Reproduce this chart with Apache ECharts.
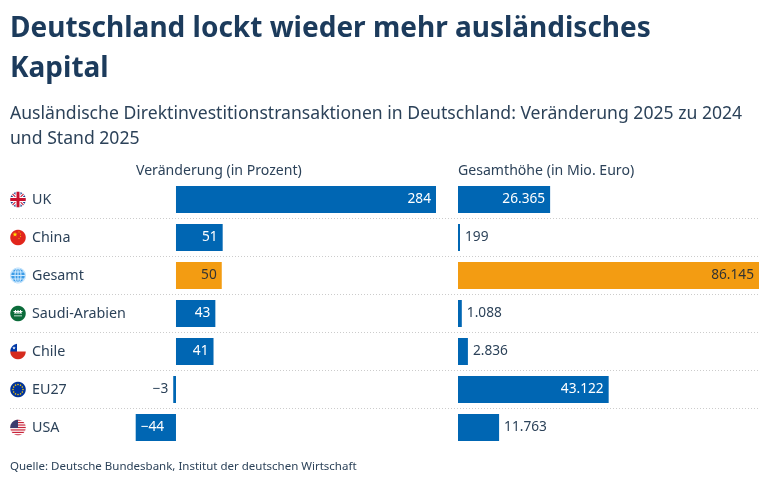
<!DOCTYPE html>
<html>
<head>
<meta charset="utf-8">
<script src="https://cdn.jsdelivr.net/npm/echarts@6/dist/echarts.min.js"></script>
<style>
  html, body { margin: 0; padding: 0; background: #fff; }
  #chart { width: 770px; height: 488px; }
</style>
</head>
<body>
<div id="chart"></div>
<script>
const countries = ['UK', 'China', 'Gesamt', 'Saudi-Arabien', 'Chile', 'EU27', 'USA'];
const changePct = [284, 51, 50, 43, 41, -3, -44];
const totalMio = [26365, 199, 86145, 1088, 2836, 43122, 11763];

const BLUE = '#0066b3';
const ORANGE = '#f39c12';
const TEXT = '#2c4259';
const FONT = '"Noto Sans", "Open Sans", sans-serif';

// little round flags, drawn on canvas
function star(ctx, cx, cy, r, color) {
  ctx.beginPath();
  for (let i = 0; i < 10; i++) {
    const a = -Math.PI / 2 + i * Math.PI / 5;
    const rr = i % 2 ? r * 0.42 : r;
    ctx.lineTo(cx + rr * Math.cos(a), cy + rr * Math.sin(a));
  }
  ctx.closePath();
  ctx.fillStyle = color;
  ctx.fill();
}

function makeFlag(draw) {
  const c = document.createElement('canvas');
  c.width = c.height = 32;
  const ctx = c.getContext('2d');
  ctx.save();
  ctx.beginPath();
  ctx.arc(16, 16, 15.5, 0, Math.PI * 2);
  ctx.clip();
  draw(ctx);
  ctx.restore();
  return c;
}

const flags = [
  makeFlag(ctx => { // UK
    ctx.fillStyle = '#1f3f8f'; ctx.fillRect(0, 0, 32, 32);
    ctx.strokeStyle = '#fff'; ctx.lineWidth = 6;
    ctx.beginPath(); ctx.moveTo(0, 0); ctx.lineTo(32, 32); ctx.moveTo(32, 0); ctx.lineTo(0, 32); ctx.stroke();
    ctx.strokeStyle = '#c8102e'; ctx.lineWidth = 2;
    ctx.beginPath(); ctx.moveTo(0, 0); ctx.lineTo(32, 32); ctx.moveTo(32, 0); ctx.lineTo(0, 32); ctx.stroke();
    ctx.fillStyle = '#fff'; ctx.fillRect(11, 0, 10, 32); ctx.fillRect(0, 11, 32, 10);
    ctx.fillStyle = '#c8102e'; ctx.fillRect(13, 0, 6, 32); ctx.fillRect(0, 13, 32, 6);
  }),
  makeFlag(ctx => { // China
    ctx.fillStyle = '#e1261c'; ctx.fillRect(0, 0, 32, 32);
    star(ctx, 10, 10, 5, '#ffde00');
    star(ctx, 18, 5, 1.6, '#ffde00');
    star(ctx, 21, 9, 1.6, '#ffde00');
    star(ctx, 21, 14, 1.6, '#ffde00');
    star(ctx, 18, 18, 1.6, '#ffde00');
  }),
  makeFlag(ctx => { // globe
    ctx.fillStyle = '#3d9ce6'; ctx.fillRect(0, 0, 32, 32);
    ctx.strokeStyle = '#cfeaff'; ctx.lineWidth = 2;
    ctx.beginPath(); ctx.ellipse(16, 16, 6, 15, 0, 0, Math.PI * 2); ctx.stroke();
    ctx.beginPath(); ctx.moveTo(16, 0); ctx.lineTo(16, 32); ctx.stroke();
    ctx.beginPath(); ctx.moveTo(0, 16); ctx.lineTo(32, 16);
    ctx.moveTo(2, 9); ctx.lineTo(30, 9); ctx.moveTo(2, 23); ctx.lineTo(30, 23); ctx.stroke();
    ctx.beginPath(); ctx.arc(16, 16, 14.5, 0, Math.PI * 2); ctx.stroke();
  }),
  makeFlag(ctx => { // Saudi Arabia
    ctx.fillStyle = '#0b6b3a'; ctx.fillRect(0, 0, 32, 32);
    ctx.fillStyle = '#fff';
    ctx.fillRect(7, 11, 18, 2); ctx.fillRect(8, 14, 16, 2);
    ctx.fillRect(10, 9, 2, 6); ctx.fillRect(15, 9, 2, 6); ctx.fillRect(20, 9, 2, 6);
    ctx.fillRect(8, 20, 16, 1.5);
  }),
  makeFlag(ctx => { // Chile
    ctx.fillStyle = '#fff'; ctx.fillRect(0, 0, 32, 16);
    ctx.fillStyle = '#d52b1e'; ctx.fillRect(0, 16, 32, 16);
    ctx.fillStyle = '#0039a6'; ctx.fillRect(0, 0, 14, 16);
    star(ctx, 8, 9, 3.5, '#fff');
  }),
  makeFlag(ctx => { // EU
    ctx.fillStyle = '#003399'; ctx.fillRect(0, 0, 32, 32);
    ctx.fillStyle = '#ffcc00';
    for (let i = 0; i < 12; i++) {
      const a = i * Math.PI / 6;
      ctx.beginPath(); ctx.arc(16 + 10 * Math.cos(a), 16 + 10 * Math.sin(a), 1.5, 0, Math.PI * 2); ctx.fill();
    }
  }),
  makeFlag(ctx => { // USA
    for (let i = 0; i < 13; i++) {
      ctx.fillStyle = i % 2 ? '#fff' : '#c8243a';
      ctx.fillRect(0, i * 32 / 13, 32, 32 / 13 + 0.5);
    }
    ctx.fillStyle = '#3c3b6e'; ctx.fillRect(0, 0, 16, 17);
  })
];

const rich = { n: { fontSize: 14.3, fontFamily: FONT, color: TEXT, padding: [0, 0, 0, 6] } };
flags.forEach((f, i) => {
  rich['f' + i] = { width: 16, height: 16, backgroundColor: { image: f } };
});

const fmtDe = v => String(Math.abs(v)).replace(/\B(?=(\d{3})+(?!\d))/g, '.');
const fmtSigned = v => (v < 0 ? '\u2212' : '') + fmtDe(v);

const valueLabel = (inside, neg, dark) => ({
  show: true,
  position: inside ? (neg ? 'insideLeft' : 'insideRight') : (neg ? 'left' : 'right'),
  distance: 5,
  fontSize: 13.7,
  fontFamily: FONT,
  color: inside ? (dark ? '#333333' : '#ffffff') : TEXT,
  formatter: p => fmtSigned(p.value)
});

const leftData = changePct.map((v, i) => ({
  value: v,
  itemStyle: { color: countries[i] === 'Gesamt' ? ORANGE : BLUE },
  label: valueLabel(Math.abs(v) >= 10, v < 0, countries[i] === 'Gesamt')
}));
const rightData = totalMio.map((v, i) => ({
  value: v,
  itemStyle: { color: countries[i] === 'Gesamt' ? ORANGE : BLUE },
  label: valueLabel(v >= 20000, false, countries[i] === 'Gesamt')
}));

const ROW_TOP = 180.5, ROW_H = 38;

const chart = echarts.init(document.getElementById('chart'), null, { renderer: 'canvas' });
chart.setOption({
  animation: false,
  backgroundColor: '#fff',
  title: [
    {
      text: 'Deutschland lockt wieder mehr ausländisches\nKapital',
      left: 10, top: 9, padding: 0,
      textStyle: { fontFamily: FONT, fontWeight: 'bold', fontSize: 28, lineHeight: 40, color: '#1c3b5c' }
    },
    {
      text: 'Ausländische Direktinvestitionstransaktionen in Deutschland: Veränderung 2025 zu 2024\nund Stand 2025',
      left: 10, top: 101, padding: 0,
      textStyle: { fontFamily: FONT, fontWeight: 'normal', fontSize: 17.6, lineHeight: 25, color: TEXT }
    },
    {
      text: 'Veränderung (in Prozent)',
      left: 136, top: 162, padding: 0,
      textStyle: { fontFamily: FONT, fontWeight: 'normal', fontSize: 14.1, lineHeight: 18, color: TEXT }
    },
    {
      text: 'Gesamthöhe (in Mio. Euro)',
      left: 458, top: 162, padding: 0,
      textStyle: { fontFamily: FONT, fontWeight: 'normal', fontSize: 14.1, lineHeight: 18, color: TEXT }
    },
    {
      text: 'Quelle: Deutsche Bundesbank, Institut der deutschen Wirtschaft',
      left: 10, top: 459, padding: 0,
      textStyle: { fontFamily: FONT, fontWeight: 'normal', fontSize: 11.5, lineHeight: 16, color: TEXT }
    }
  ],
  grid: [
    { left: 135.7, right: 334, top: ROW_TOP, height: ROW_H * 7 },
    { left: 458, right: 11, top: ROW_TOP, height: ROW_H * 7 },
    { left: 10, right: 11, top: ROW_TOP, height: ROW_H * 7 },
    // separators between the rows
    { left: 10, right: 11, top: ROW_TOP + ROW_H, height: ROW_H * 5 }
  ],
  xAxis: [
    { gridIndex: 0, type: 'value', min: 'dataMin', max: 'dataMax', show: false },
    { gridIndex: 1, type: 'value', min: 0, max: 'dataMax', show: false },
    { gridIndex: 2, type: 'value', min: 0, max: 1, show: false },
    { gridIndex: 3, type: 'value', min: 0, max: 1, show: false }
  ],
  yAxis: [
    { gridIndex: 0, type: 'category', data: countries, inverse: true, show: false },
    { gridIndex: 1, type: 'category', data: countries, inverse: true, show: false },
    {
      gridIndex: 2, type: 'category', data: countries, inverse: true,
      axisLine: { show: false }, axisTick: { show: false }, splitLine: { show: false },
      axisLabel: {
        inside: true, margin: 0, align: 'left',
        formatter: (val, idx) => '{f' + idx + '|}{n|' + val + '}',
        rich: rich
      }
    },
    {
      gridIndex: 3, type: 'value', min: 0, max: 5, interval: 1,
      axisLine: { show: false }, axisTick: { show: false }, axisLabel: { show: false },
      splitLine: { show: true, lineStyle: { color: '#cccccc', type: [1, 2], width: 1 } }
    }
  ],
  series: [
    {
      type: 'bar', xAxisIndex: 0, yAxisIndex: 0, data: leftData,
      barWidth: 27, barMinHeight: 2, silent: true
    },
    {
      type: 'bar', xAxisIndex: 1, yAxisIndex: 1, data: rightData,
      barWidth: 27, barMinHeight: 2, silent: true
    }
  ]
});
</script>
</body>
</html>
